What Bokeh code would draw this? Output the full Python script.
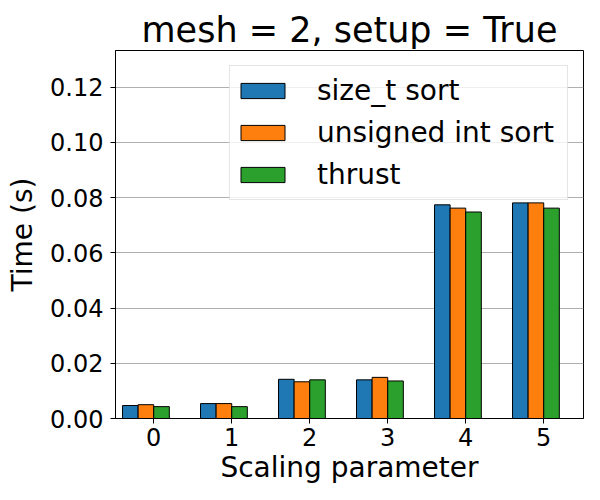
from bokeh.plotting import figure
from bokeh.models import Range1d, FixedTicker, NumeralTickFormatter, ColumnDataSource, Legend, LegendItem
from bokeh.transform import dodge
from bokeh.embed import file_html
from bokeh.resources import INLINE

params = [0, 1, 2, 3, 4, 5]
size_t_sort = [0.0047, 0.0054, 0.0142, 0.0140, 0.0774, 0.0781]
unsigned_int_sort = [0.0050, 0.0054, 0.0133, 0.0149, 0.0762, 0.0781]
thrust = [0.0043, 0.0043, 0.0140, 0.0136, 0.0748, 0.0762]
series_names = ["size_t sort", "unsigned int sort", "thrust"]
series_keys = ["size_t_sort", "unsigned_int_sort", "thrust"]
colors = ["#1f77b4", "#ff7f0e", "#2ca02c"]
offsets = [-0.3, -0.1, 0.1]
y_ticks = [0.0, 0.02, 0.04, 0.06, 0.08, 0.10, 0.12]

FONT = "DejaVu Sans"

source = ColumnDataSource(dict(x=params, size_t_sort=size_t_sort,
                               unsigned_int_sort=unsigned_int_sort, thrust=thrust))

p = figure(width=592, height=492, output_backend="svg", toolbar_location=None,
           x_range=Range1d(-0.49, 5.51), y_range=Range1d(0, 0.1333),
           min_border_left=115, min_border_right=9, min_border_bottom=74, min_border_top=50)

p.title.text = "mesh = 2, setup = True"
p.title.text_font = FONT
p.title.text_font_size = "35px"
p.title.text_font_style = "normal"
p.title.text_color = "black"
p.title.align = "center"
p.title.standoff = 2

items = []
for key, name, col, off in zip(series_keys, series_names, colors, offsets):
    r = p.vbar(x=dodge("x", off, range=p.x_range), top=key, width=0.2, source=source,
               fill_color=col, line_color="black", line_width=1)
    items.append(LegendItem(label=name, renderers=[r]))

legend = Legend(items=items, location="top_right", margin=15, padding=5, spacing=3,
                glyph_width=55, glyph_height=19, label_height=39, label_standoff=27,
                label_width=245,
                label_text_font=FONT, label_text_font_size="28px", label_text_color="black",
                background_fill_alpha=0.8, border_line_color="#cccccc", border_line_width=1)
p.add_layout(legend)

p.outline_line_color = "black"
p.outline_line_width = 1
p.outline_line_alpha = 1

p.xgrid.visible = False
p.ygrid.ticker = FixedTicker(ticks=y_ticks)
p.ygrid.grid_line_color = "#b0b0b0"
p.ygrid.grid_line_width = 1

p.xaxis.ticker = FixedTicker(ticks=params)
p.yaxis.ticker = FixedTicker(ticks=y_ticks)
p.yaxis.formatter = NumeralTickFormatter(format="0.00")

for ax in (p.xaxis[0], p.yaxis[0]):
    ax.axis_line_color = "black"
    ax.major_tick_line_color = "black"
    ax.major_tick_out = 5
    ax.major_tick_in = 0
    ax.minor_tick_out = 0
    ax.minor_tick_in = 0
    ax.major_label_text_font = FONT
    ax.major_label_text_font_size = "24px"
    ax.major_label_text_color = "black"
    ax.axis_label_text_font = FONT
    ax.axis_label_text_font_size = "28px"
    ax.axis_label_text_font_style = "normal"
    ax.axis_label_text_color = "black"

p.xaxis.axis_label = "Scaling parameter"
p.yaxis.axis_label = "Time (s)"
p.xaxis.major_label_standoff = 4
p.xaxis.axis_label_standoff = 2
p.yaxis.major_label_standoff = 7
p.yaxis.axis_label_standoff = 8

open("out.html", "w").write(file_html(p, INLINE))
